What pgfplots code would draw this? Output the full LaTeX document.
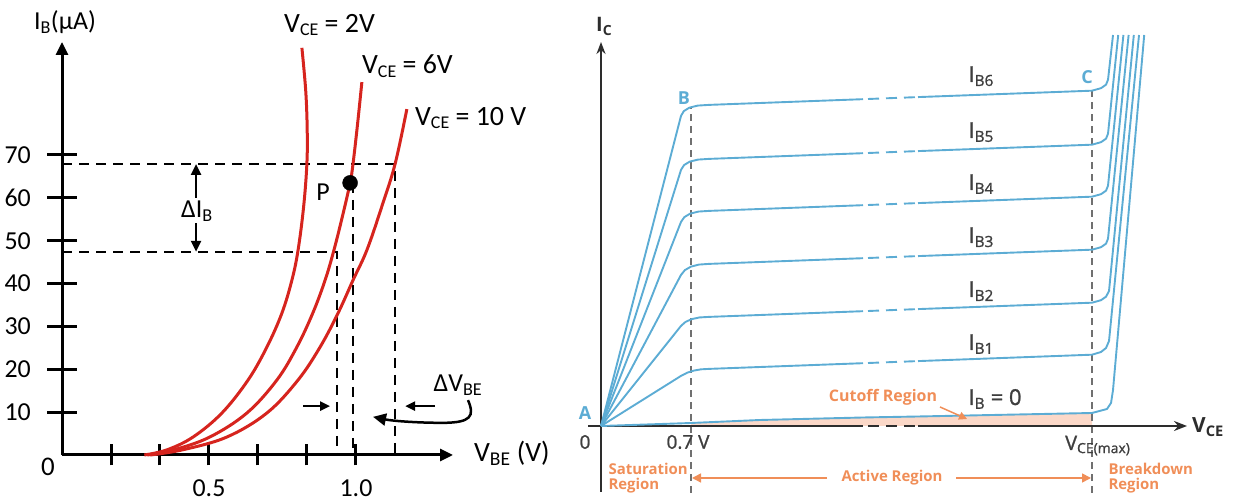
\documentclass[border=0pt]{standalone}
\usepackage{pgfplots}
\pgfplotsset{compat=1.18}
\usepackage{pgfplotstable}
\usepackage{fontspec}
\setmainfont{Carlito}
\newfontfamily\rfont{Open Sans}
\newfontfamily\rfontmed{Open Sans}[FakeBold=1.2]
\usetikzlibrary{arrows.meta}

\definecolor{curvered}{RGB}{214,36,30}
\definecolor{ibblue}{RGB}{92,172,212}
\definecolor{regorange}{RGB}{240,142,88}
\definecolor{labgray}{RGB}{62,62,62}
\definecolor{axgray}{RGB}{45,45,45}
\definecolor{dashgray}{RGB}{112,112,112}
\definecolor{cutpeach}{RGB}{251,216,200}

% Output characteristics, I_C versus V_CE (schematic units)
\pgfplotstableread{
x y
0 0
8.0 31.01
8.282 31.49
8.842 31.835
9.682 32.04
10.8 32.11
26.2 32.68
31.7 32.89
49.1 33.53
50.0 33.78
50.5 34.13
50.7 34.63
51.2 39.1
}\ibsix
\pgfplotstableread{
x y
0 0
8.0 25.61
8.304 26.09
8.872 26.435
9.704 26.64
10.8 26.71
26.2 27.28
31.7 27.49
49.1 28.13
50.0 28.38
50.5 28.73
50.7 29.23
51.72 39.1
}\ibfive
\pgfplotstableread{
x y
0 0
8.0 20.41
8.337 20.891
8.916 21.235
9.737 21.441
10.8 21.51
26.2 22.08
31.7 22.29
49.1 22.93
50.0 23.18
50.5 23.53
50.7 24.03
52.24 39.1
}\ibfour
\pgfplotstableread{
x y
0 0
8.0 15.11
8.393 15.591
8.991 15.935
9.793 16.141
10.8 16.21
26.2 16.78
31.7 16.99
49.1 17.63
50.0 17.88
50.5 18.23
50.7 18.73
52.76 39.1
}\ibthree
\pgfplotstableread{
x y
0 0
8.0 10.01
8.445 10.404
9.06 10.685
9.845 10.854
10.8 10.91
26.2 11.48
31.7 11.69
49.1 12.33
50.0 12.58
50.5 12.93
50.8 13.5
53.28 39.1
}\ibtwo
\pgfplotstableread{
x y
0 0
8.0 5.01
8.594 5.316
9.259 5.535
9.994 5.666
10.8 5.71
26.2 6.28
31.7 6.49
49.1 7.13
50.0 7.40
50.5 7.80
50.8 8.5
53.8 39.1
}\ibone
\pgfplotstableread{
x y
0 0
9.0 0.3
15.9 0.6
26.2 0.85
31.7 0.95
49.1 1.3
50.6 1.7
51.0 2.3
51.2 3.6
54.32 39.1
}\ibzero

\pgfplotsset{
  ibcurve/.style={ibblue, line width=1.9bp, line join=round, no marks},
  ibbreak/.style={ibcurve, dash pattern=on 11bp off 7bp, dash phase=13bp},
}
\tikzset{
  iblabel/.style={anchor=base west, text=labgray, font=\rfontmed\fontsize{22}{26}\selectfont},
  regionlabel/.style={anchor=base west, text=regorange, font=\rfont\bfseries\fontsize{15}{18}\selectfont},
  pointlabel/.style={text=ibblue, font=\rfont\bfseries\fontsize{18}{21}\selectfont},
  leftlabel/.style={font=\fontsize{28}{32}\selectfont},
}
% one characteristic: solid, broken middle stretch, solid
\newcommand\ibplot[1]{%
  \addplot[ibcurve, restrict x to domain=-1:26.21] table {#1};
  \addplot[ibbreak, restrict x to domain=26.19:31.71] table {#1};
  \addplot[ibcurve, restrict x to domain=31.69:60] table {#1};
}
\newcommand\lsub[1]{\raisebox{-0.28ex}{\fontsize{18}{20}\selectfont #1}}

\begin{document}
\begin{tikzpicture}[x=1bp,y=1bp]
\useasboundingbox (0,0) rectangle (1234,503);

% ---------------- input characteristics ----------------
\begin{axis}[
  at={(62bp,48bp)}, anchor=south west,
  scale only axis, width=391bp, height=413bp,
  xmin=0, xmax=1.33, ymin=0, ymax=96.36,
  enlargelimits=false, clip=false,
  axis lines=left,
  axis line style={line width=3bp, -{Triangle[length=13bp,width=12bp]}},
  ytick={10,20,30,40,50,60,70},
  xtick={0.16667,0.33333,0.5,0.66667,0.83333,1},
  xticklabels={,,0.5,,,1.0},
  tick align=center,
  major tick length=30bp,
  xtick style={/pgfplots/major tick length=21bp},
  tick style={line width=3bp, black},
  /pgf/number format/assume math mode=true,
  ticklabel style={font=\fontsize{26}{30}\selectfont, inner sep=0pt},
  yticklabel style={anchor=east},
  xticklabel style={anchor=north},
  yticklabel shift=16bp,
  xticklabel shift=9bp,
]
  % guide lines
  \addplot[black, line width=2bp, dash pattern=on 10bp off 7bp] coordinates {(0,67.9) (1.133,67.9) (1.133,0)};
  \addplot[black, line width=2bp, dash pattern=on 10bp off 7bp] coordinates {(0,47.4) (0.935,47.4) (0.935,0)};
  \addplot[black, line width=2bp, dash pattern=on 10bp off 7bp] coordinates {(0.99,63.5) (0.99,0)};
  % V_CE = 2 V
  \addplot[curvered, line width=3bp, smooth, tension=0.6] coordinates {
    (0.28,0) (0.357,1.2) (0.446,4.2) (0.544,9.8) (0.633,17.5) (0.697,25.2)
    (0.748,33.1) (0.782,40.8) (0.803,47.8) (0.822,58) (0.833,68) (0.834,76)
    (0.829,85) (0.816,95)};
  % V_CE = 6 V
  \addplot[curvered, line width=3bp, smooth, tension=0.6] coordinates {
    (0.29,0) (0.38,1.2) (0.503,4.2) (0.629,9.8) (0.731,17.5) (0.799,25.2)
    (0.853,33.1) (0.895,40.8) (0.925,47.8) (0.955,56) (0.98,63.5) (0.99,68)
    (1.005,77) (1.02,87)};
  % V_CE = 10 V
  \addplot[curvered, line width=3bp, smooth, tension=0.6] coordinates {
    (0.30,0) (0.41,1.2) (0.561,4.2) (0.697,9.8) (0.803,17.5) (0.878,25.2)
    (0.939,33.1) (0.99,40.8) (1.037,47.8) (1.088,58) (1.133,67.9) (1.173,80.7)};
  % operating point P
  \addplot[only marks, mark=*, mark size=7.5bp, black] coordinates {(0.98,63.5)};

  \node[font=\fontsize{26}{30}\selectfont] at (axis cs:0.01,101) {I\textsubscript{B}(μA)};
  \node[leftlabel] at (axis cs:0.91,100.3) {V\lsub{CE} = 2V};
  \node[leftlabel] at (axis cs:1.175,90.8) {V\lsub{CE} = 6V};
  \node[leftlabel] at (axis cs:1.39,78.6) {V\lsub{CE} = 10 V};
  \node[font=\fontsize{26}{30}\selectfont] at (axis cs:0.888,61.4) {P};
  \node[font=\fontsize{26}{30}\selectfont, fill=white, inner sep=1bp] at (axis cs:0.459,56.9) {ΔI\textsubscript{B}};
  \node[font=\fontsize{26}{30}\selectfont] at (axis cs:1.347,16.3) {ΔV\textsubscript{BE}};
  \node[font=\fontsize{28}{32}\selectfont, anchor=west] at (axis cs:1.39,0.4) {V\textsubscript{BE} (V)};
  \node[font=\fontsize{27}{30}\selectfont] at (axis cs:-0.048,-2.8) {0};

  \draw[line width=2.5bp, -{Triangle[length=11bp,width=10bp]}] (axis cs:0.456,60) -- (axis cs:0.456,67.9);
  \draw[line width=2.5bp, -{Triangle[length=11bp,width=10bp]}] (axis cs:0.456,54.1) -- (axis cs:0.456,47.4);
  \draw[line width=2.5bp, -{Triangle[length=10bp,width=9bp]}] (axis cs:0.820,11.4) -- (axis cs:0.912,11.4);
  \draw[line width=2.5bp, -{Triangle[length=10bp,width=9bp]}] (axis cs:1.269,11.4) -- (axis cs:1.167,11.4);
  \draw[line width=2.5bp, -{Triangle[length=13bp,width=12bp]}] (axis cs:1.381,12.8)
     .. controls (axis cs:1.405,9.0) and (axis cs:1.39,7.6) .. (axis cs:1.30,7.5)
     .. controls (axis cs:1.20,7.5) and (axis cs:1.12,8.0) .. (axis cs:1.058,8.9);
\end{axis}

% ---------------- output characteristics ----------------
\begin{axis}[
  at={(588bp,10bp)}, anchor=south west,
  scale only axis, width=599bp, height=458bp,
  xmin=-1.3, xmax=58.6, ymin=-6.7, ymax=39.1,
  enlargelimits=false, clip=false,
  axis lines=none,
  font=\rfont,
]
  % cutoff region
  \addplot[draw=none, fill=cutpeach] coordinates {
    (9,0) (9,0.3) (15.9,0.6) (26.2,0.85) (31.7,0.95) (49.1,1.3) (49.1,0)} -- cycle;
  % region boundaries
  \addplot[dashgray, line width=1.8bp, dash pattern=on 7bp off 5bp] coordinates {(9,-6.7) (9,31.8)};
  \addplot[dashgray, line width=1.8bp, dash pattern=on 7bp off 5bp] coordinates {(49.1,-6.7) (49.1,33.5)};
  % axes
  \addplot[axgray, line width=2bp, -{Stealth[length=12bp,width=9bp]}] coordinates {(0,-6.6) (0,38.4)};
  \addplot[axgray, line width=2bp] coordinates {(-1.3,0) (26.2,0)};
  \addplot[axgray, line width=2bp, dash pattern=on 11bp off 7bp, dash phase=13bp] coordinates {(26.2,0) (31.7,0)};
  \addplot[axgray, line width=2bp, -{Stealth[length=13bp,width=10bp]}] coordinates {(31.7,0) (58.6,0)};
  % characteristics
  \addplot[ibcurve] table {\ibzero};
  \ibplot{\ibone}
  \ibplot{\ibtwo}
  \ibplot{\ibthree}
  \ibplot{\ibfour}
  \ibplot{\ibfive}
  \ibplot{\ibsix}

  \node[anchor=base west, inner sep=0pt, font=\rfont\bfseries\fontsize{20}{24}\selectfont, text=axgray] at (axis cs:-0.5,39.4) {I\textsubscript{C}};
  \node[iblabel] at (axis cs:36.4,34.4) {I\textsubscript{B6}};
  \node[iblabel] at (axis cs:36.4,28.8) {I\textsubscript{B5}};
  \node[iblabel] at (axis cs:36.4,23.6) {I\textsubscript{B4}};
  \node[iblabel] at (axis cs:36.4,18.3) {I\textsubscript{B3}};
  \node[iblabel] at (axis cs:36.4,12.9) {I\textsubscript{B2}};
  \node[iblabel] at (axis cs:36.4,7.6) {I\textsubscript{B1}};
  \node[iblabel] at (axis cs:36.4,2.1) {I\textsubscript{B} = 0};
  \node[text=regorange, font=\rfont\bfseries\fontsize{16}{19}\selectfont] at (axis cs:28.2,2.9) {Cutoff Region};
  \draw[regorange, line width=1.5bp, -{Triangle[length=8bp,width=8bp]}] (axis cs:33.9,1.9) -- (axis cs:36.6,0.7);
  \node[pointlabel] at (axis cs:-1.6,1.3) {A};
  \node[pointlabel] at (axis cs:8.3,32.8) {B};
  \node[pointlabel] at (axis cs:48.6,34.9) {C};
  \node[text=labgray, font=\rfontmed\fontsize{19}{22}\selectfont] at (axis cs:-1.6,-1.6) {0};
  \node[text=labgray, font=\rfontmed\fontsize{19}{22}\selectfont] at (axis cs:8.7,-1.6) {0.7 V};
  \node[anchor=base west, inner sep=0pt, text=axgray, font=\rfont\bfseries\fontsize{21}{24}\selectfont] at (axis cs:59.1,-0.7) {V\textsubscript{CE}};
  \node[anchor=base west, inner sep=0pt, text=labgray, font=\rfontmed\fontsize{20}{23}\selectfont] at (axis cs:46.4,-2.4) {V\textsubscript{CE(max)}};
  \node[regionlabel] at (axis cs:0.4,-4.9) {Saturation};
  \node[regionlabel] at (axis cs:0.4,-6.4) {Region};
  \node[regionlabel] at (axis cs:50.4,-4.9) {Breakdown};
  \node[regionlabel] at (axis cs:50.4,-6.4) {Region};
  \node[text=regorange, font=\rfont\bfseries\fontsize{15}{18}\selectfont] at (axis cs:29.1,-5.2) {Active Region};
  \draw[regorange, line width=1.5bp, -{Triangle[length=9bp,width=9bp]}] (axis cs:22.6,-5.2) -- (axis cs:9.1,-5.2);
  \draw[regorange, line width=1.5bp, -{Triangle[length=9bp,width=9bp]}] (axis cs:35.5,-5.2) -- (axis cs:49.0,-5.2);
\end{axis}
\end{tikzpicture}
\end{document}
